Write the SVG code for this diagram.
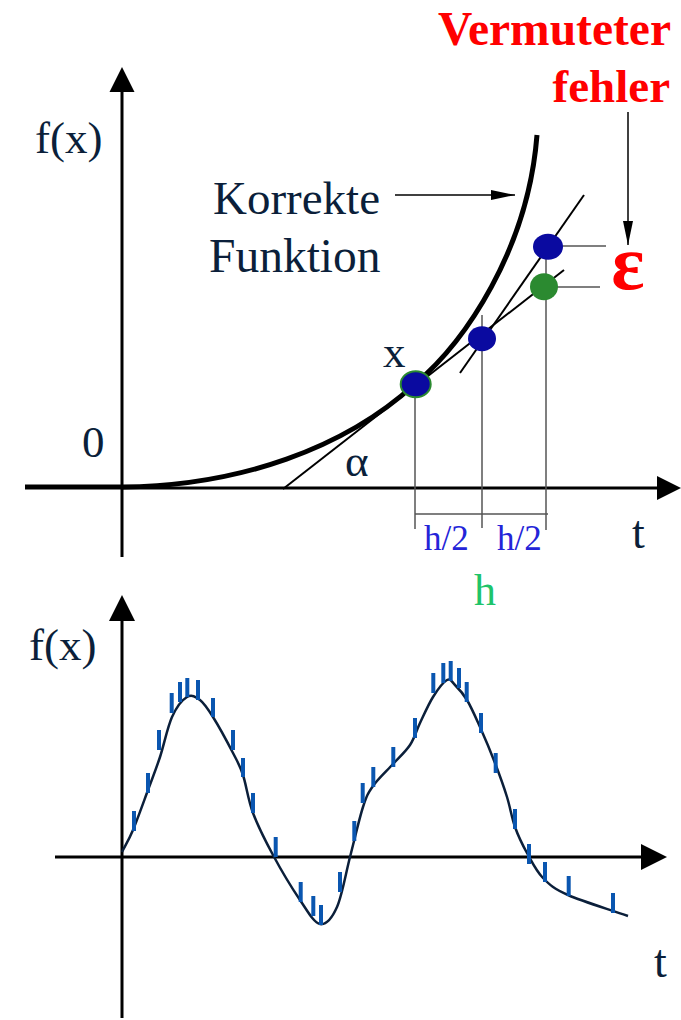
<svg xmlns="http://www.w3.org/2000/svg" width="681" height="1020" viewBox="0 0 681 1020">
<style>
.lbl{font-family:"Liberation Serif","Times New Roman",serif;fill:#0b1f3a}
.red{font-family:"Liberation Serif","Times New Roman",serif;fill:#ff0000;font-weight:bold}
.axis{stroke:#000;stroke-width:3;fill:none}
.thin{stroke:#555;stroke-width:1.5;fill:none}
.blk{stroke:#000;stroke-width:2;fill:none}
.bar{stroke:#0a56b0;stroke-width:4}
.dotb{fill:#0a0aa0}
</style>
<defs>
<marker id="ah" viewBox="0 0 24 10" refX="24" refY="5" markerWidth="24" markerHeight="10" markerUnits="userSpaceOnUse" orient="auto">
<path d="M0,0 L24,5 L0,10 Z" fill="#000"/>
</marker>
</defs>
<rect width="681" height="1020" fill="#fff"/>

<g id="top-axes">
<line class="axis" x1="122" y1="557" x2="122" y2="88"/>
<polygon points="122,67 109.5,92 134.5,92" fill="#000"/>
<line class="axis" x1="122" y1="488" x2="660" y2="488"/>
<polygon points="681,488 657,476 657,500" fill="#000"/>
</g>

<g id="correct-function">
<path d="M25,487 L122,487 C240,486 345,448 415,384 C465,342 528,250 537,135" stroke="#000" stroke-width="5" fill="none"/>
</g>

<g id="construction-lines">
<line class="blk" x1="283" y1="489" x2="564" y2="270"/>
<line class="blk" x1="460" y1="373" x2="584" y2="195"/>
<line class="thin" x1="415" y1="384" x2="415" y2="529"/>
<line class="thin" x1="482" y1="315" x2="482" y2="528"/>
<line class="thin" x1="546" y1="247" x2="546" y2="530"/>
<line class="thin" x1="415" y1="514" x2="548" y2="514"/>
<line class="thin" x1="546" y1="246" x2="606" y2="246"/>
<line class="thin" x1="546" y1="287" x2="600" y2="287"/>
</g>

<g id="dot-x"><ellipse cx="415.7" cy="384.3" rx="15" ry="13" class="dotb" stroke="#2b8a30" stroke-width="2"/></g>
<g id="dot-mid"><ellipse cx="482" cy="338.7" rx="14" ry="12.5" class="dotb"/></g>
<g id="dot-upper"><ellipse cx="548" cy="246.7" rx="15" ry="13" class="dotb"/></g>
<g id="dot-green"><ellipse cx="544" cy="286.7" rx="14" ry="13.5" fill="#2b8a30"/></g>

<g id="connectors">
<line x1="395" y1="195" x2="515" y2="195" stroke="#000" stroke-width="1.5" marker-end="url(#ah)"/>
<line x1="628" y1="112" x2="628" y2="245" stroke="#000" stroke-width="1.5" marker-end="url(#ah)"/>
</g>

<g id="labels-top">
<text class="lbl" x="35" y="153" font-size="45">f(x)</text>
<text class="lbl" x="213" y="214" font-size="47">Korrekte</text>
<text class="lbl" x="209" y="272" font-size="47.5">Funktion</text>
<text class="lbl" x="82" y="457" font-size="45">0</text>
<text class="lbl" x="345" y="476" font-size="45">α</text>
<text class="lbl" x="383" y="367" font-size="45">x</text>
<text class="lbl" x="632" y="548" font-size="46">t</text>
<text x="424" y="550" font-size="35" font-family="Liberation Serif,serif" fill="#2424d8">h/2</text>
<text x="497" y="550" font-size="35" font-family="Liberation Serif,serif" fill="#2424d8">h/2</text>
<text x="474" y="605" font-size="44" font-family="Liberation Serif,serif" fill="#1ec46a">h</text>
<text class="red" x="671" y="45" font-size="47.5" text-anchor="end">Vermuteter</text>
<text class="red" x="670" y="102" font-size="47" text-anchor="end">fehler</text>
<text class="red" x="628" y="289" font-size="78" text-anchor="middle">ε</text>
</g>

<g id="bottom-axes">
<line class="axis" x1="122" y1="1018" x2="122" y2="615"/>
<polygon points="122,595 109,621 135,621" fill="#000"/>
<line class="axis" x1="55" y1="857" x2="645" y2="857"/>
<polygon points="667,857 641,844 641,870" fill="#000"/>
<text class="lbl" x="29" y="660" font-size="45">f(x)</text>
<text class="lbl" x="654" y="977" font-size="46">t</text>
</g>

<g id="signal">
<path d="M122,852 C125.7,844.7 128.7,840.3 133,830 C137.3,819.7 143.5,802.2 148,790 C152.5,777.8 156,769.2 160,757 C164,744.8 167.5,727 172,717 C176.5,707 182.3,699.8 187,697 C191.7,694.2 195.7,696.7 200,700 C204.3,703.3 207.5,708.2 213,717 C218.5,725.8 228,743.3 233,753 C238,762.7 239.7,765 243,775 C246.3,785 248,799.7 253,813 C258,826.3 265.2,840.5 273,855 C280.8,869.5 292.2,888.5 300,900 C307.8,911.5 313.8,922.8 320,924 C326.2,925.2 332,918.2 337,907 C342,895.8 345.7,873.7 350,857 C354.3,840.3 359.2,818.8 363,807 C366.8,795.2 368,793.2 373,786 C378,778.8 386.8,770.8 393,764 C399.2,757.2 405.5,751.8 410,745 C414.5,738.2 416.2,731 420,723 C423.8,715 428.5,704.2 433,697 C437.5,689.8 443.3,682 447,680 C450.7,678 451.7,681.7 455,685 C458.3,688.3 462.8,693 467,700 C471.2,707 475.3,716.5 480,727 C484.7,737.5 490.5,751.3 495,763 C499.5,774.7 503.7,786.3 507,797 C510.3,807.7 511.7,817.7 515,827 C518.3,836.3 522.3,844.5 527,853 C531.7,861.5 536.2,871 543,878 C549.8,885 553.8,888.7 568,895 C582.2,901.3 608,909 628,916" stroke="#0b1f3a" stroke-width="2.5" fill="none"/>
</g>

<g id="samples">
<line class="bar" x1="134" y1="811" x2="134" y2="831"/>
<line class="bar" x1="148" y1="773" x2="148" y2="793"/>
<line class="bar" x1="159" y1="730" x2="159" y2="750"/>
<line class="bar" x1="171.7" y1="693" x2="171.7" y2="713"/>
<line class="bar" x1="180" y1="682" x2="180" y2="702"/>
<line class="bar" x1="187.3" y1="678" x2="187.3" y2="697"/>
<line class="bar" x1="198" y1="680" x2="198" y2="700"/>
<line class="bar" x1="213" y1="698" x2="213" y2="717"/>
<line class="bar" x1="233" y1="730" x2="233" y2="750"/>
<line class="bar" x1="243" y1="758" x2="243" y2="777"/>
<line class="bar" x1="253" y1="793" x2="253" y2="813"/>
<line class="bar" x1="275.7" y1="837" x2="275.7" y2="857"/>
<line class="bar" x1="300.7" y1="882" x2="300.7" y2="902"/>
<line class="bar" x1="313.3" y1="896" x2="313.3" y2="916"/>
<line class="bar" x1="321" y1="905" x2="321" y2="925"/>
<line class="bar" x1="340" y1="872" x2="340" y2="892"/>
<line class="bar" x1="354.3" y1="821" x2="354.3" y2="841"/>
<line class="bar" x1="362.7" y1="783" x2="362.7" y2="803"/>
<line class="bar" x1="373.3" y1="767" x2="373.3" y2="787"/>
<line class="bar" x1="393.3" y1="747" x2="393.3" y2="767"/>
<line class="bar" x1="415" y1="718" x2="415" y2="738"/>
<line class="bar" x1="433.3" y1="673" x2="433.3" y2="693"/>
<line class="bar" x1="443.3" y1="663" x2="443.3" y2="683"/>
<line class="bar" x1="450.7" y1="661" x2="450.7" y2="681"/>
<line class="bar" x1="459" y1="668" x2="459" y2="688"/>
<line class="bar" x1="466.7" y1="682" x2="466.7" y2="702"/>
<line class="bar" x1="481" y1="713" x2="481" y2="733"/>
<line class="bar" x1="495.7" y1="753" x2="495.7" y2="773"/>
<line class="bar" x1="515" y1="809" x2="515" y2="829"/>
<line class="bar" x1="529" y1="844" x2="529" y2="864"/>
<line class="bar" x1="545" y1="862" x2="545" y2="882"/>
<line class="bar" x1="568.7" y1="876" x2="568.7" y2="896"/>
<line class="bar" x1="613" y1="893" x2="613" y2="913"/>
</g>
</svg>
